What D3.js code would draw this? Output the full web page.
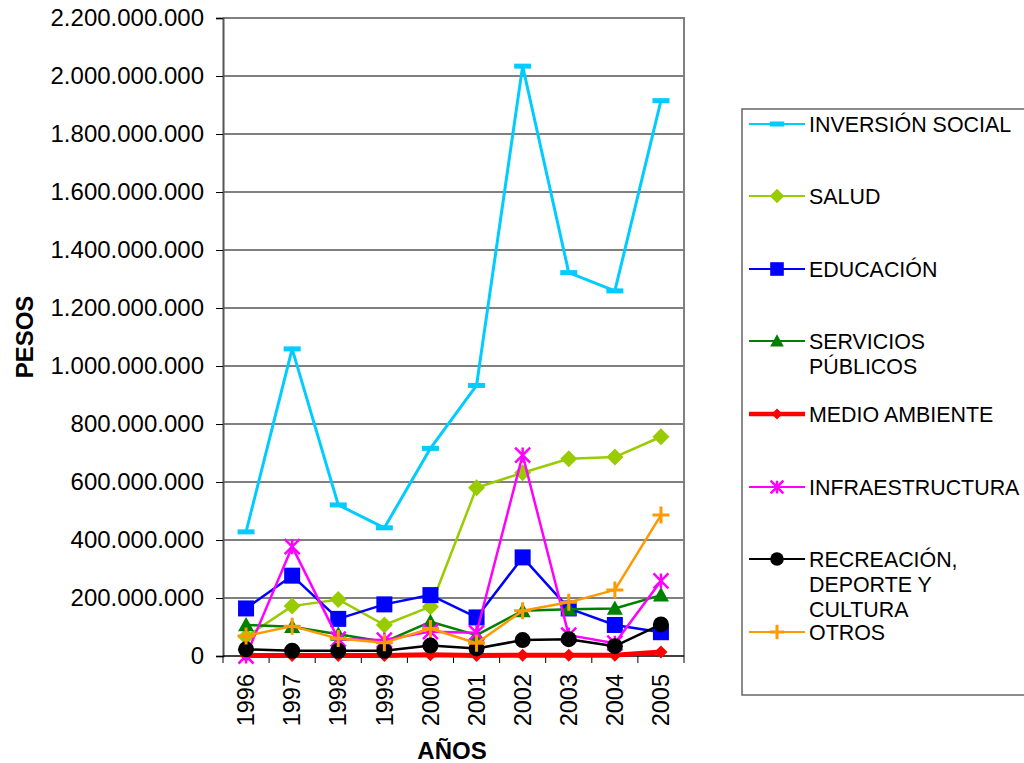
<!DOCTYPE html>
<html>
<head>
<meta charset="utf-8">
<script src="https://cdn.jsdelivr.net/npm/d3@7"></script>
<style>
  html, body { margin: 0; padding: 0; background: #fff; }
  svg { display: block; font-family: "Liberation Sans", Arial, sans-serif; }
</style>
</head>
<body>
<svg id="chart" width="1024" height="763"></svg>
<script>
const years = ["1996","1997","1998","1999","2000","2001","2002","2003","2004","2005"];
const yTicks = [0,200e6,400e6,600e6,800e6,1000e6,1200e6,1400e6,1600e6,1800e6,2000e6,2200e6];

const inversionSocial = [428e6,1059e6,521e6,442e6,716e6,933e6,2034e6,1322e6,1259e6,1915e6];
const salud          = [66e6,172e6,195e6,107e6,170e6,580e6,632e6,680e6,686e6,756e6];
const educacion      = [164e6,277e6,128e6,178e6,210e6,133e6,340e6,164e6,107e6,82e6];
const servicios      = [107e6,101e6,75e6,49e6,118e6,72e6,156e6,161e6,164e6,210e6];
const medioAmbiente  = [2e6,2e6,2e6,2e6,4e6,2e6,3e6,3e6,3e6,14e6];
const infraestructura= [0,377e6,58e6,55e6,84e6,80e6,693e6,72e6,44e6,259e6];
const recreacion     = [23e6,18e6,18e6,18e6,36e6,26e6,55e6,58e6,34e6,109e6];
const otros          = [69e6,103e6,60e6,46e6,95e6,44e6,156e6,185e6,228e6,486e6];

const seriesNames = [["INVERSIÓN SOCIAL"],["SALUD"],["EDUCACIÓN"],["SERVICIOS","PÚBLICOS"],["MEDIO AMBIENTE"],["INFRAESTRUCTURA"],["RECREACIÓN,","DEPORTE Y","CULTURA"],["OTROS"]];
const seriesValues = [inversionSocial, salud, educacion, servicios, medioAmbiente, infraestructura, recreacion, otros];
const seriesColors = ["#00CCFF","#99CC00","#0000FF","#008000","#FF0000","#FF00FF","#000000","#FF9900"];
const seriesMarkers = ["dash","diamond","square","triangle","smalldiamond","star","circle","plus"];
const seriesWidths = [3,2.5,2.5,2.5,5,2.5,2.5,2.5];

const svg = d3.select("#chart");
const L = 223, R = 684, T = 18, B = 656;

const x = d3.scaleBand().domain(years).range([L, R]);
const y = d3.scaleLinear().domain([0, 2200e6]).range([B, T]);
const cx = d => x(d) + x.bandwidth() / 2;

const loc = d3.formatLocale({decimal: ",", thousands: ".", grouping: [3], currency: ["$", ""]});
const fmt = loc.format(",.0f");

// gridlines
svg.append("g").selectAll("line").data(yTicks.filter(v => v > 0 && v < 2200e6)).join("line")
  .attr("x1", L).attr("x2", R).attr("y1", d => y(d)).attr("y2", d => y(d))
  .attr("stroke", "#000").attr("stroke-width", 1);

// plot border (top/right)
svg.append("path").attr("d", `M${L},${T}H${R}V${B}`).attr("fill", "none")
  .attr("stroke", "#808080").attr("stroke-width", 2);

// y axis
const yAxis = svg.append("g").attr("transform", `translate(${L},0)`)
  .call(d3.axisLeft(y).tickValues(yTicks).tickFormat(fmt).tickSize(7).tickPadding(12));
yAxis.select(".domain").attr("stroke", "#555").attr("stroke-width", 2);
yAxis.selectAll(".tick line").attr("stroke", "#000");
yAxis.selectAll(".tick text").attr("font-size", 24).attr("fill", "#000")
  .attr("font-family", "Liberation Sans, Arial, sans-serif");

// x axis
const xg = svg.append("g");
xg.append("line").attr("x1", L).attr("x2", R).attr("y1", B).attr("y2", B).attr("stroke", "#000").attr("stroke-width", 1.5);
const bounds = years.map(d => x(d)).concat([x(years[years.length-1]) + x.bandwidth()]);
xg.selectAll("line.tk").data(bounds).join("line").attr("class", "tk")
  .attr("x1", d => d).attr("x2", d => d).attr("y1", B).attr("y2", B + 7).attr("stroke", "#000");
xg.selectAll("text").data(years).join("text")
  .attr("transform", d => `translate(${cx(d)},${B + 18}) rotate(-90)`)
  .attr("text-anchor", "end").attr("dy", "0.35em")
  .attr("font-size", 23.5).attr("fill", "#000").text(d => d);

// axis titles
svg.append("text").attr("x", 452).attr("y", 759).attr("text-anchor", "middle")
  .attr("font-size", 24).attr("font-weight", "bold").text("AÑOS");
svg.append("text").attr("transform", "translate(33,337) rotate(-90)").attr("text-anchor", "middle")
  .attr("font-size", 24).attr("font-weight", "bold").text("PESOS");

function drawMarker(g, type, color, s) {
  const r = s / 2;
  if (type === "dash") {
    g.append("rect").attr("x", -r).attr("y", -2.5).attr("width", s).attr("height", 5).attr("fill", color);
  } else if (type === "diamond" || type === "smalldiamond") {
    g.append("path").attr("d", `M0,${-r}L${r},0L0,${r}L${-r},0Z`).attr("fill", color);
  } else if (type === "square") {
    g.append("rect").attr("x", -r).attr("y", -r).attr("width", s).attr("height", s).attr("fill", color);
  } else if (type === "triangle") {
    g.append("path").attr("d", `M0,${-r}L${r},${r*0.8}L${-r},${r*0.8}Z`).attr("fill", color);
  } else if (type === "circle") {
    g.append("circle").attr("r", r).attr("fill", color);
  } else if (type === "star") {
    g.append("path").attr("d", `M${-r},${-r}L${r},${r}M${-r},${r}L${r},${-r}M0,${-r}L0,${r}`)
      .attr("stroke", color).attr("stroke-width", 2.5).attr("fill", "none");
  } else if (type === "plus") {
    g.append("path").attr("d", `M${-r},0H${r}M0,${-r}V${r}`)
      .attr("stroke", color).attr("stroke-width", 3).attr("fill", "none");
  }
}
const markerSize = {dash:17, diamond:17, square:16, triangle:16, smalldiamond:13, star:15, circle:16, plus:17};

const line = d3.line().x((d, i) => cx(years[i])).y(d => y(d));
seriesValues.forEach((vals, si) => {
  const g = svg.append("g");
  g.append("path").datum(vals).attr("d", line).attr("fill", "none")
    .attr("stroke", seriesColors[si]).attr("stroke-width", seriesWidths[si]).attr("stroke-linejoin", "round");
  g.selectAll("g.m").data(vals).join("g").attr("class", "m")
    .attr("transform", (d, i) => `translate(${cx(years[i])},${y(d)})`)
    .each(function() { drawMarker(d3.select(this), seriesMarkers[si], seriesColors[si], markerSize[seriesMarkers[si]]); });
});

// legend
const lg = svg.append("g");
lg.append("rect").attr("x", 742).attr("y", 109).attr("width", 300).attr("height", 586)
  .attr("fill", "#fff").attr("stroke", "#666").attr("stroke-width", 1.5);
const legY = [124,196,269,341,414,487,559,632];
seriesNames.forEach((lines, si) => {
  const gy = legY[si];
  const e = lg.append("g").attr("transform", `translate(0,${gy})`);
  e.append("line").attr("x1", 749).attr("x2", 805).attr("y1", 0).attr("y2", 0)
    .attr("stroke", seriesColors[si]).attr("stroke-width", si === 4 ? 4.5 : 2);
  const m = e.append("g").attr("transform", "translate(777,0)");
  drawMarker(m, seriesMarkers[si], seriesColors[si], markerSize[seriesMarkers[si]] * 0.85);
  lines.forEach((t, li) => {
    e.append("text").attr("x", 809).attr("y", li * 25).attr("dy", "0.36em")
      .attr("font-size", 21.4).attr("fill", "#000").text(t);
  });
});
</script>
</body>
</html>
